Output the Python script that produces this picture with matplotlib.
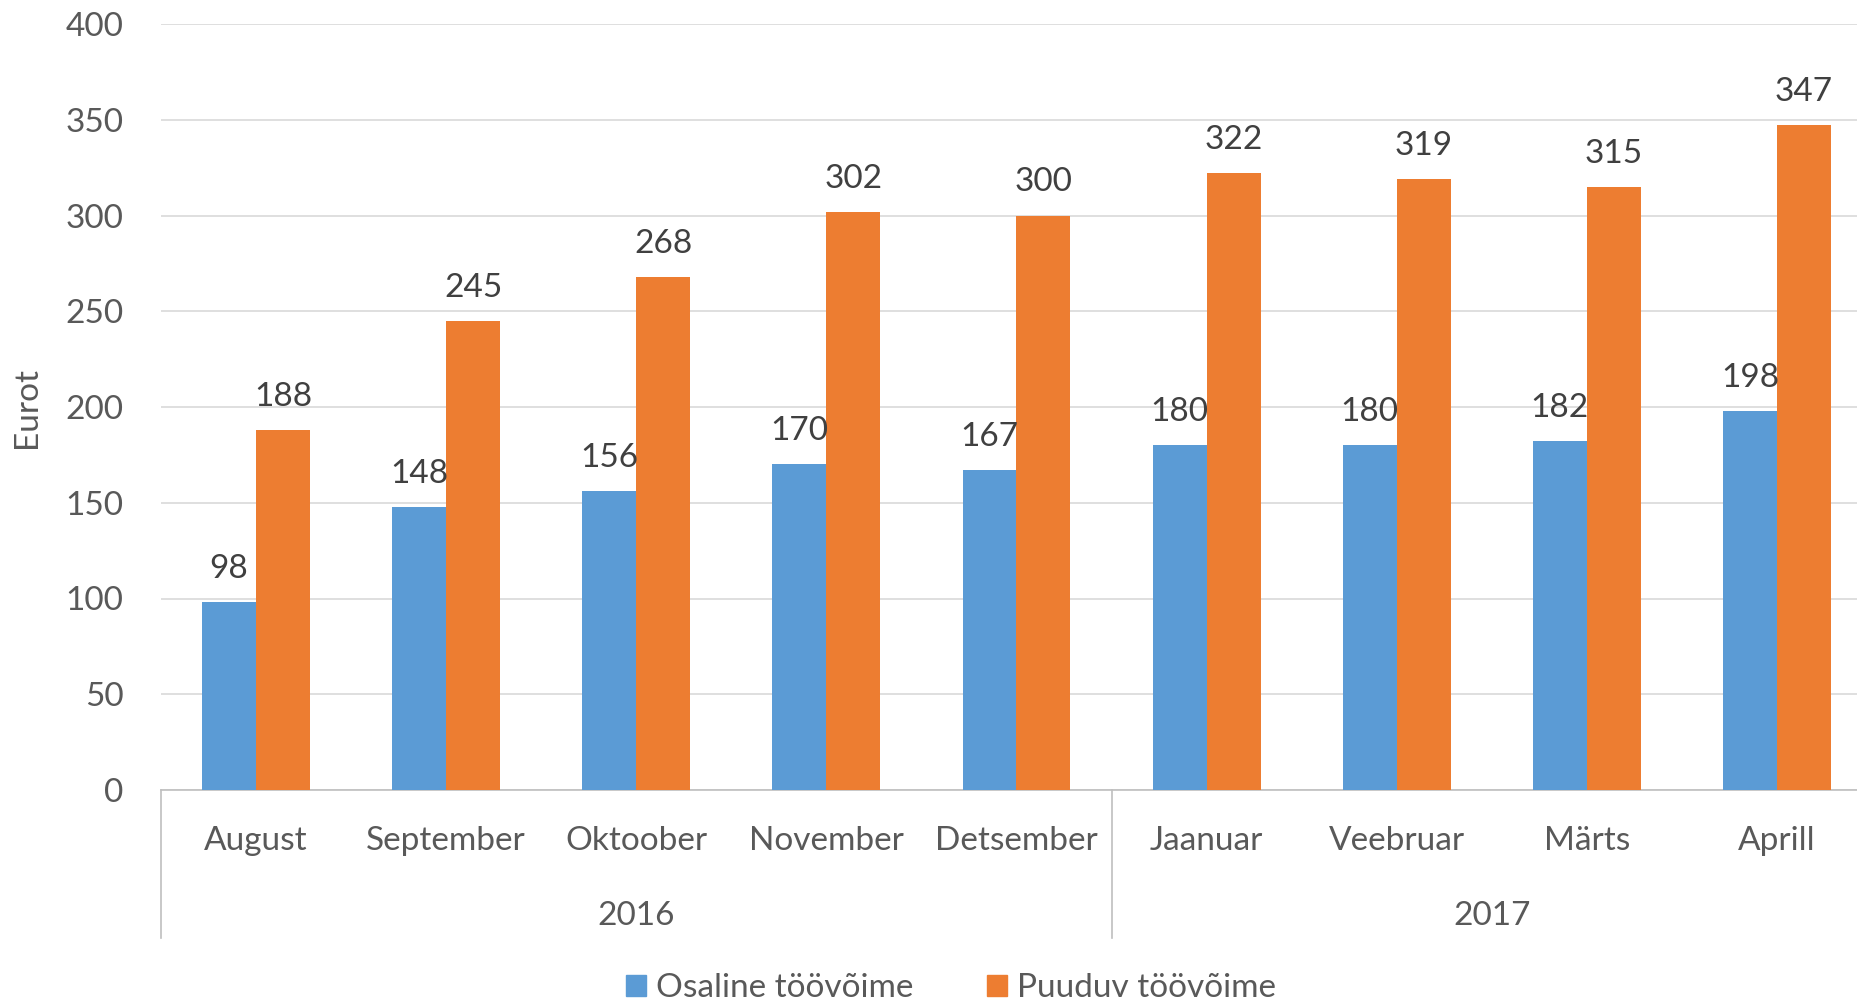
import matplotlib
matplotlib.use("Agg")
import matplotlib.pyplot as plt
import matplotlib.transforms as mtransforms
from matplotlib.patches import Patch

months = ["August", "September", "Oktoober", "November", "Detsember",
          "Jaanuar", "Veebruar", "Märts", "Aprill"]
years = ["2016", "2017"]
year_counts = [5, 4]
osaline = [98, 148, 156, 170, 167, 180, 180, 182, 198]
puuduv = [188, 245, 268, 302, 300, 322, 319, 315, 347]

blue = "#5B9BD5"
orange = "#ED7D31"
text_col = "#595959"
label_col = "#404040"
grid_col = "#D9D9D9"

plt.rcParams["font.family"] = ["Lato", "DejaVu Sans"]

W, H = 1858, 1002
fig = plt.figure(figsize=(W / 100, H / 100), dpi=100)
left, right, top, bottom = 161, 1872, 24, 790
ax = fig.add_axes([left / W, 1 - bottom / H, (right - left) / W, (bottom - top) / H])

bw = 0.284
x = [i + 0.5 for i in range(len(months))]
ax.bar([v - bw / 2 for v in x], osaline, width=bw, color=blue, zorder=3)
ax.bar([v + bw / 2 for v in x], puuduv, width=bw, color=orange, zorder=3)

for xi, a, b in zip(x, osaline, puuduv):
    ax.annotate(str(a), (xi - bw / 2, a), xytext=(0, 13), textcoords="offset points",
                ha="center", va="bottom", fontsize=24, color=label_col)
    ax.annotate(str(b), (xi + bw / 2, b), xytext=(0, 13), textcoords="offset points",
                ha="center", va="bottom", fontsize=24, color=label_col)

ax.set_xlim(0, len(months))
ax.set_ylim(0, 400)
ax.set_yticks(range(0, 401, 50))
ax.yaxis.grid(True, color=grid_col, linewidth=1.2, zorder=0)
ax.tick_params(axis="y", length=0, pad=27, labelsize=24, labelcolor=text_col)
ax.set_xticks(x)
ax.set_xticklabels(months)
ax.tick_params(axis="x", length=0, pad=26, labelsize=24, labelcolor=text_col)
for s in ["left", "right", "top"]:
    ax.spines[s].set_visible(False)
ax.spines["bottom"].set_color("#BFBFBF")
ax.spines["bottom"].set_linewidth(1.2)

ax.set_ylabel("Eurot", fontsize=24, color=text_col)
ax.yaxis.set_label_coords(-(left - 42) / (right - left), 0.5)

# year groups below the month labels
trans = mtransforms.blended_transform_factory(ax.transData, ax.transAxes)
depth = -(938 - bottom) / (bottom - top)
year_y = -(916 - bottom) / (bottom - top)
start = 0
for yr, n in zip(years, year_counts):
    ax.plot([start, start], [0, depth], transform=trans, color="#BFBFBF",
            linewidth=1.2, clip_on=False)
    ax.text(start + n / 2, year_y, yr, transform=trans, ha="center", va="center",
            fontsize=24, color=text_col)
    start += n
ax.plot([start, start], [0, depth], transform=trans, color="#BFBFBF",
        linewidth=1.2, clip_on=False)

handles = [Patch(color=blue, label="Osaline töövõime"),
           Patch(color=orange, label="Puuduv töövõime")]
fig.legend(handles=handles, loc="center", bbox_to_anchor=(951 / W, 1 - 988 / H),
           ncol=2, frameon=False, fontsize=24, labelcolor=text_col,
           handlelength=0.6, handleheight=0.6, handletextpad=0.3, columnspacing=2.2)

fig.savefig("out.png", dpi=100)
